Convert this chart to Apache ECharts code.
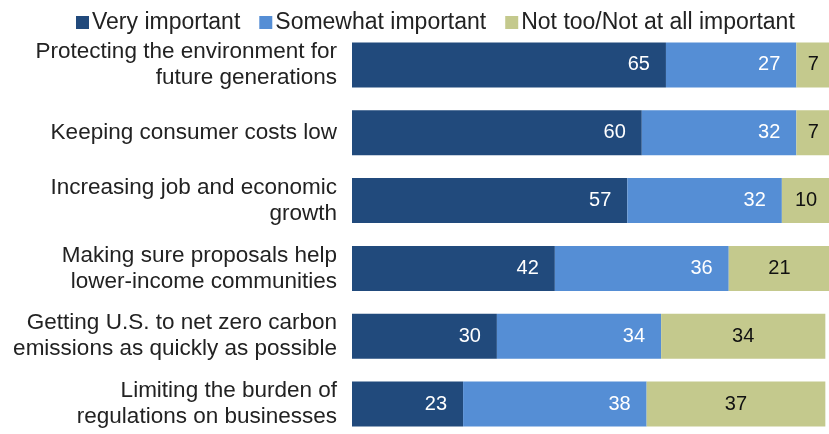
<!DOCTYPE html>
<html><head><meta charset="utf-8">
<script src="https://cdn.jsdelivr.net/npm/echarts@6/dist/echarts.min.js"></script>
<style>html,body{margin:0;padding:0;background:#fff}#c{width:829px;height:434px}</style>
</head><body><div id="c"></div>
<script>
const categories = [
  "Protecting the environment for\nfuture generations",
  "Keeping consumer costs low",
  "Increasing job and economic\ngrowth",
  "Making sure proposals help\nlower-income communities",
  "Getting U.S. to net zero carbon\nemissions as quickly as possible",
  "Limiting the burden of\nregulations on businesses"
];
const seriesNames = ["Very important", "Somewhat important", "Not too/Not at all important"];
const veryImportant = [65, 60, 57, 42, 30, 23];
const somewhatImportant = [27, 32, 32, 36, 34, 38];
const notImportant = [7, 7, 10, 21, 34, 37];
const colors = ["#214a7c", "#558ed5", "#c4c98d"];
const FONT = "Liberation Sans";

const chart = echarts.init(document.getElementById('c'), null, {renderer: 'canvas'});
function mk(name, data, color, pos, textColor) {
  return {
    name, type: 'bar', stack: 'total', data, barWidth: 45,
    itemStyle: {color},
    label: {show: true, position: pos, distance: 16, color: textColor, fontSize: 20, fontFamily: FONT},
    emphasis: {disabled: true}
  };
}
chart.setOption({
  animation: false,
  textStyle: {fontFamily: FONT},
  legend: {
    top: 6, left: 71, itemWidth: 13, itemHeight: 13, itemGap: 19,
    icon: 'rect',
    textStyle: {fontSize: 23, color: '#222', fontFamily: FONT, padding: [0,0,0,-2]},
    data: seriesNames
  },
  grid: {left: 352, top: 31, width: 483, height: 407, containLabel: false, outerBoundsMode: 'none'},
  xAxis: {type: 'value', min: 0, max: 100, show: false},
  yAxis: {
    type: 'category', data: categories, inverse: true,
    axisLine: {show: false}, axisTick: {show: false},
    axisLabel: {fontSize: 22.5, color: '#222', lineHeight: 26, margin: 15, align: 'right', fontFamily: FONT}
  },
  series: [
    mk(seriesNames[0], veryImportant, colors[0], 'insideRight', '#fff'),
    mk(seriesNames[1], somewhatImportant, colors[1], 'insideRight', '#fff'),
    mk(seriesNames[2], notImportant, colors[2], 'inside', '#111')
  ]
});
</script></body></html>
